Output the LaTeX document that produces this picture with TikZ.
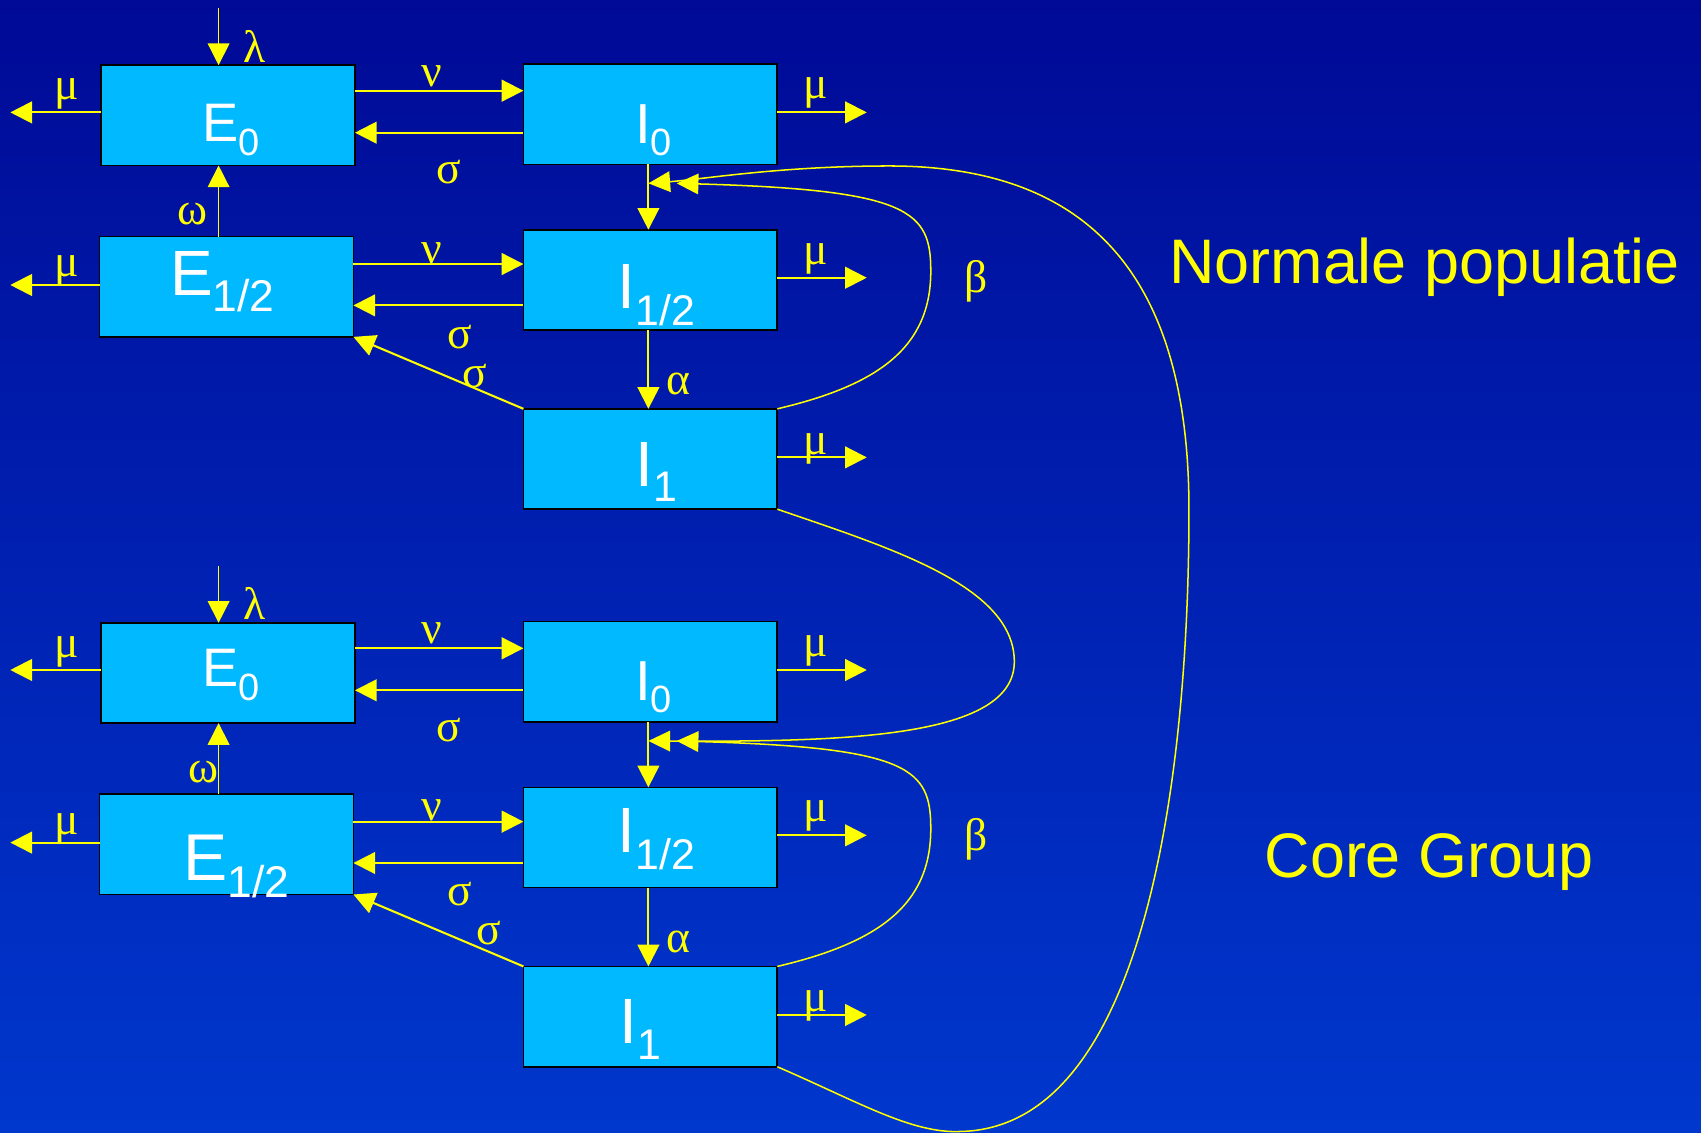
\documentclass[tikz,border=0pt]{standalone}
\usepackage{fontspec}
\setmainfont{Liberation Sans}
\newfontfamily\grk{Liberation Serif}
\usetikzlibrary{arrows.meta}

\definecolor{boxfill}{RGB}{0,185,255}
\definecolor{ylw}{RGB}{255,255,0}
\definecolor{bgtop}{RGB}{0,10,150}
\definecolor{bgbot}{RGB}{0,55,205}

\tikzset{
 box/.style={draw=black, line width=1.5pt, fill=boxfill, minimum width=234pt, minimum height=92.5pt, inner sep=0pt, outer sep=0pt},
 arr/.style={draw=ylw, line width=1.9pt, -{Triangle[length=20pt,width=20pt]}},
 thinarr/.style={arr, line width=1.3pt},
 curve/.style={draw=ylw, line width=1.4pt},
 carr/.style={curve, -{Triangle[length=20pt,width=19pt]}},
 gl/.style={text=ylw, inner sep=0pt, font=\grk\fontsize{42}{42}\selectfont},
 ttl/.style={text=ylw, inner sep=0pt, anchor=base west, font=\fontsize{58}{58}\selectfont},
 lab/.style={text=white, inner sep=0pt, anchor=base west},
}

\newcommand\drawgrp[4]{%
\begin{scope}[yshift=-#2pt]
 \node[box] (E0#1) at (210.2,106.3) {};
 \node[box] (I0#1) at (599.5,105.3) {};
 \node[box] (E12#1) at (208.8,264.3) {};
 \node[box] (I12#1) at (599.5,258) {};
 \node[box] (I1#1) at (599.5,423.1) {};
 \coordinate (lam#1) at (201.5,7.7);
 \coordinate (mE0#1) at (9.5,103.6);
 \coordinate (mI0#1) at (799,103.6);
 \coordinate (mE12#1) at (9.5,262.7);
 \coordinate (mI12#1) at (799,256);
 \coordinate (mI1#1) at (799,421.6);
 \coordinate (tA#1) at (597.7,169);
 \coordinate (tB#1) at (623.8,169);
 \draw[thinarr] (lam#1) -- (lam#1 |- E0#1.north);
 \draw[arr] (mE0#1 -| E0#1.west) -- (mE0#1);
 \draw[arr] (E0#1.east |- 0,83.6) -- (I0#1.west |- 0,83.6);
 \draw[arr] (I0#1.west |- 0,122.3) -- (E0#1.east |- 0,122.3);
 \draw[arr] (I0#1.east |- mI0#1) -- (mI0#1);
 \draw[thinarr] (E12#1.north -| lam#1) -- (E0#1.south -| lam#1);
 \draw[arr] (mE12#1 -| E12#1.west) -- (mE12#1);
 \draw[arr] (E12#1.east |- 0,243.4) -- (I12#1.west |- 0,243.4);
 \draw[arr] (I12#1.west |- 0,281.5) -- (E12#1.east |- 0,281.5);
 \draw[arr] (I12#1.east |- mI12#1) -- (mI12#1);
 \draw[arr] (I0#1.south -| tA#1) -- (I12#1.north -| tA#1);
 \draw[arr] (I12#1.south -| tA#1) -- (I1#1.north -| tA#1);
 \draw[arr] (I1#1.north west) -- (E12#1.south east);
 \draw[arr] (I1#1.east |- mI1#1) -- (mI1#1);
 \draw[carr] (I1#1.north east) .. controls (810,355) and (858,320) .. (858,250)
   .. controls (858,195) and (840,175) .. (tB#1);
 \node[gl] (gla#1) at (234.5,42.5) {λ};
 \node[gl] (glb#1) at (61.5,87) {μ};
 \node[gl] (glc#1) at (398,70) {ν};
 \node[gl] (gld#1) at (413.5,159) {σ};
 \node[gl] (gle#1) at (751.5,86) {μ};
 \node[gl] (glf#1) at (#3,197.5) {ω};
 \node[gl] (glg#1) at (61.5,250) {μ};
 \node[gl] (glh#1) at (398,233) {ν};
 \node[gl] (gli#1) at (423.5,310.5) {σ};
 \node[gl] (glj#1) at (751.5,238.5) {μ};
 \node[gl] (glk#1) at (625.5,354) {α};
 \node[gl] (gll#1) at (#4,346.5) {σ};
 \node[gl] (glm#1) at (751.5,413.5) {μ};
 \node[gl] (gln#1) at (900,259.5) {β};
\end{scope}}

\begin{document}
\begin{tikzpicture}[x=1pt,y=-1pt]
\useasboundingbox (0,0) rectangle (1568,1044);
\shade[top color=bgtop, bottom color=bgbot] (0,0) rectangle (1568,1044);

\drawgrp{t}{0}{177}{438}
\drawgrp{b}{514}{188}{451}

% cross-group curves
\draw[carr] (I1t.south east) .. controls (820,505) and (935,540) .. (935,610)
  .. controls (935,680) and (780,684) .. (tAb);
\draw[carr] (I1b.south east) .. controls (790,1015) and (840,1045) .. (885,1043)
  .. controls (1060,1040) and (1096,700) .. (1096,470)
  .. controls (1096,250) and (1000,153) .. (820,153)
  .. controls (720,153) and (650,165) .. (tAt);

% box labels
\node[lab] (LE0t) at (186.5,130.6) {\fontsize{50}{50}\selectfont E\raisebox{-13pt}{\fontsize{35}{35}\selectfont 0}};
\node[lab] (LI0t) at (585.4,132) {\fontsize{52}{52}\selectfont I\raisebox{-11pt}{\fontsize{35}{35}\selectfont 0}};
\node[lab] (LE12t) at (156.6,272) {\fontsize{59}{59}\selectfont E\raisebox{-15.3pt}{\fontsize{41}{41}\selectfont 1/2}};
\node[lab] (LI12t) at (569,284.2) {\fontsize{59}{59}\selectfont I\raisebox{-15.4pt}{\fontsize{39.5}{39.5}\selectfont 1/2}};
\node[lab] (LI1t) at (586,448) {\fontsize{59}{59}\selectfont I\raisebox{-14.5pt}{\fontsize{39.5}{39.5}\selectfont 1}};

\node[lab] (LE0b) at (186.5,632.6) {\fontsize{50}{50}\selectfont E\raisebox{-13pt}{\fontsize{35}{35}\selectfont 0}};
\node[lab] (LI0b) at (585.4,646) {\fontsize{52}{52}\selectfont I\raisebox{-11pt}{\fontsize{35}{35}\selectfont 0}};
\node[lab] (LE12b) at (169,812) {\fontsize{61}{61}\selectfont E\raisebox{-15pt}{\fontsize{41}{41}\selectfont 1/2}};
\node[lab] (LI12b) at (569,786.2) {\fontsize{59}{59}\selectfont I\raisebox{-15.4pt}{\fontsize{39.5}{39.5}\selectfont 1/2}};
\node[lab] (LI1b) at (571.3,962) {\fontsize{59}{59}\selectfont I\raisebox{-14.5pt}{\fontsize{39.5}{39.5}\selectfont 1}};

% titles
\node[ttl] (tnorm) at (1077.6,261) {Normale populatie};
\node[ttl] (tcore) at (1165.5,808.5) {Core Group};
\end{tikzpicture}
\end{document}
